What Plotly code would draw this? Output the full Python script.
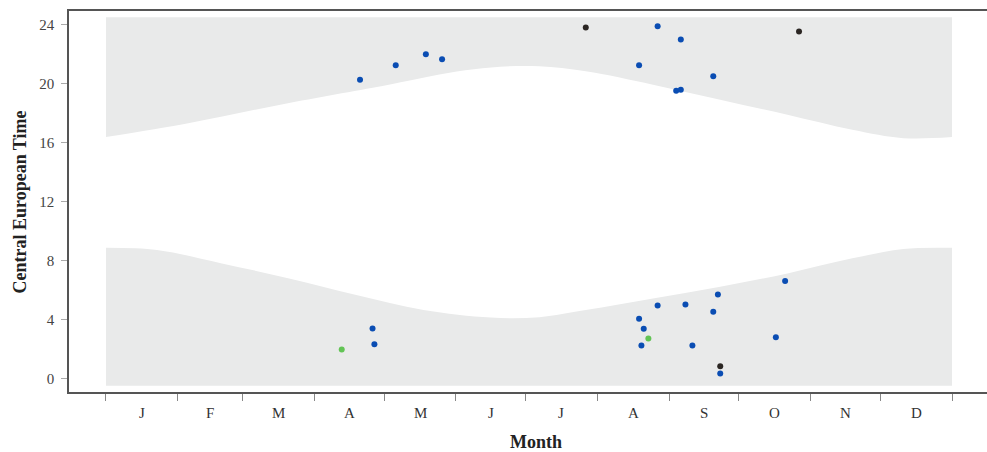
import plotly.graph_objects as go

# ---- Data -------------------------------------------------------------
# Band limits (hours, CET)
band_top = 24.5
band_bottom = -0.5

# Sunset curve (day of year, hour CET)
sunset_day = [0, 36, 79, 122, 140, 155, 170, 187, 207, 236, 265, 294, 322, 344, 365]
sunset_hour = [16.37, 17.33, 18.69, 19.93, 20.5, 20.9, 21.15, 21.18, 20.84, 19.93, 18.91, 17.89, 16.87, 16.3, 16.37]

# Sunrise curve (day of year, hour CET)
sunrise_day = [0, 22, 50, 79, 108, 137, 166, 187, 207, 236, 265, 294, 322, 344, 365]
sunrise_hour = [8.86, 8.71, 7.80, 6.78, 5.65, 4.63, 4.12, 4.15, 4.63, 5.42, 6.21, 7.12, 8.14, 8.78, 8.86]

# Observations (day of year, hour CET)
blue_day = [109.6, 125, 138, 145, 230, 238, 248, 246, 248, 262,
            115, 115.8, 230, 232, 231, 238, 250, 253, 262, 264, 265, 289, 293]
blue_hour = [20.27, 21.25, 22.0, 21.65, 21.25, 23.9, 22.99, 19.52, 19.59, 20.5,
             3.38, 2.31, 4.04, 3.36, 2.22, 4.94, 5.01, 2.22, 4.51, 5.69, 0.32, 2.79, 6.6]

black_day = [207, 299, 265]
black_hour = [23.81, 23.54, 0.82]

green_day = [101.7, 234]
green_hour = [1.95, 2.70]

# Month axis
month_starts = [0, 31, 59, 90, 120, 151, 181, 212, 243, 273, 304, 334, 365]
month_labels = ["J", "F", "M", "A", "M", "J", "J", "A", "S", "O", "N", "D"]

y_ticks = [0, 4, 8, 12, 16, 20, 24]

# ---- Figure -----------------------------------------------------------
band_color = "#e9eaea"
font_family = "Liberation Serif, Times New Roman, serif"

fig = go.Figure()

# upper band: from sunset to top
fig.add_trace(go.Scatter(x=[sunset_day[0], sunset_day[-1]], y=[band_top, band_top],
                         mode="lines", line=dict(width=0, color=band_color),
                         hoverinfo="skip", showlegend=False))
fig.add_trace(go.Scatter(x=sunset_day, y=sunset_hour, mode="lines",
                         line=dict(width=0, color=band_color, shape="spline", smoothing=1.0),
                         fill="tonexty", fillcolor=band_color,
                         hoverinfo="skip", showlegend=False))

# lower band: from bottom to sunrise
fig.add_trace(go.Scatter(x=[sunrise_day[0], sunrise_day[-1]], y=[band_bottom, band_bottom],
                         mode="lines", line=dict(width=0, color=band_color),
                         hoverinfo="skip", showlegend=False))
fig.add_trace(go.Scatter(x=sunrise_day, y=sunrise_hour, mode="lines",
                         line=dict(width=0, color=band_color, shape="spline", smoothing=1.0),
                         fill="tonexty", fillcolor=band_color,
                         hoverinfo="skip", showlegend=False))

fig.add_trace(go.Scatter(x=blue_day, y=blue_hour, mode="markers",
                         marker=dict(size=6, color="#0a4db3"), showlegend=False))
fig.add_trace(go.Scatter(x=black_day, y=black_hour, mode="markers",
                         marker=dict(size=6, color="#2b2623"), showlegend=False))
fig.add_trace(go.Scatter(x=green_day, y=green_hour, mode="markers",
                         marker=dict(size=6, color="#62c455"), showlegend=False))

# month labels at mid-month
for i, lab in enumerate(month_labels):
    mid = (month_starts[i] + month_starts[i + 1]) / 2
    fig.add_annotation(x=mid, y=-0.055, xref="x", yref="paper", text=lab,
                       showarrow=False, xanchor="center", yanchor="middle",
                       font=dict(family=font_family, size=15, color="#333333"))

fig.add_annotation(x=-0.0534, y=0.5, xref="paper", yref="paper",
                   text="<b>Central European Time</b>", textangle=-90,
                   showarrow=False, xanchor="center", yanchor="middle",
                   font=dict(family=font_family, size=18, color="#222222"))
fig.add_annotation(x=0.5087, y=-0.131, xref="paper", yref="paper",
                   text="<b>Month</b>", showarrow=False,
                   xanchor="center", yanchor="middle",
                   font=dict(family=font_family, size=18, color="#222222"))

fig.update_layout(
    width=987, height=452,
    margin=dict(l=69, r=0, t=11, b=60),
    plot_bgcolor="white", paper_bgcolor="white",
    font=dict(family=font_family, size=15, color="#444444"),
)

fig.update_xaxes(range=[-15.96, 380.1], showgrid=False, zeroline=False,
                 tickvals=month_starts, ticktext=[""] * len(month_starts),
                 ticks="outside", ticklen=7, tickcolor="#888888", tickwidth=1,
                 showline=True, linecolor="#555555", linewidth=1.5, mirror=True)
fig.update_yaxes(range=[-0.93, 24.93], showgrid=False, zeroline=False,
                 tickvals=y_ticks, ticks="outside", ticklen=6, tickcolor="#aaaaaa",
                 ticklabelstandoff=4,
                 tickfont=dict(family=font_family, size=15, color="#444444"),
                 showline=True, linecolor="#555555", linewidth=1.5)

fig.write_html("out.html", config={"displayModeBar": False},
               post_script="document.body.style.margin='0';document.body.style.overflow='hidden';")
